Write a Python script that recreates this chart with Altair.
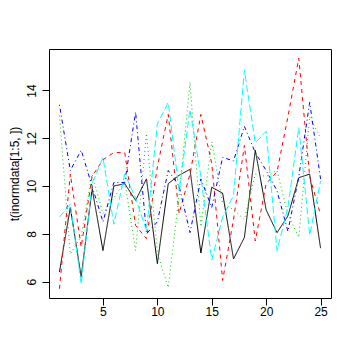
import altair as alt
import pandas as pd

idx = list(range(1, 26))
black = [6.4, 9.1, 6.2, 9.9, 7.3, 10.0, 10.1, 9.4, 10.3, 6.75, 10.1, 10.45, 10.7, 7.2, 9.95, 9.7, 6.95, 7.85, 11.5, 9.0, 8.05, 8.75, 10.35, 10.5, 7.4]
red = [5.7, 10.5, 7.45, 10.4, 11.1, 11.4, 11.4, 8.35, 7.8, 10.8, 13.0, 8.85, 10.5, 13.0, 10.95, 6.05, 8.6, 11.7, 7.7, 10.1, 10.6, 12.9, 15.35, 10.4, 8.8]
green = [12.95, 7.15, 7.9, 10.5, 8.85, 9.5, 10.2, 7.3, 12.2, 7.2, 5.75, 9.6, 14.35, 8.3, 11.85, 9.3, 9.0, 8.6, 10.5, 10.4, 10.65, 8.8, 7.85, 12.9, 12.0]
blue = [13.4, 10.65, 11.5, 10.0, 8.5, 10.15, 10.15, 13.1, 8.0, 8.5, 10.65, 10.0, 8.05, 10.3, 9.1, 11.2, 11.05, 12.5, 11.4, 10.65, 9.8, 8.1, 10.4, 13.5, 10.3]
cyan = [8.7, 9.25, 5.9, 10.1, 11.2, 8.4, 10.5, 9.5, 8.15, 12.6, 13.5, 9.8, 13.2, 10.4, 6.9, 8.7, 9.6, 14.85, 11.8, 12.3, 7.3, 9.1, 12.45, 7.95, 10.2]

series = [black, red, green, blue, cyan]
colors = ["#000000", "#FF0000", "#00CD00", "#0000FF", "#00FFFF"]
dashes = [[1, 0], [4, 4], [1, 3], [1, 3, 4, 3], [7, 3]]
x_ticks = [5, 10, 15, 20, 25]
y_ticks = [6, 8, 10, 12, 14]

allv = [v for s in series for v in s]
lo, hi = min(allv), max(allv)
pad = 0.04 * (hi - lo)
ydom = [lo - pad, hi + pad]
xdom = [1 - 0.04 * 24, 25 + 0.04 * 24]

FONT = "Liberation Sans"
xs = alt.X("x:Q", scale=alt.Scale(domain=xdom, nice=False, zero=False),
           axis=alt.Axis(values=x_ticks, title=None, domain=False, grid=False,
                         tickSize=7, tickColor="black", labelColor="black",
                         labelFont=FONT, labelFontSize=12, labelPadding=1,
                         labelBaseline="top"))
ys = alt.Y("y:Q", scale=alt.Scale(domain=ydom, nice=False, zero=False),
           axis=alt.Axis(values=y_ticks, title="t(inormdata[1:5, ])", domain=False, grid=False,
                         tickSize=7, tickColor="black", labelColor="black",
                         labelFont=FONT, labelFontSize=12, labelPadding=4,
                         labelAngle=270, labelAlign="center", labelBaseline="bottom",
                         titleFont=FONT, titleFontSize=12, titleFontWeight="normal",
                         titleColor="black", titleAngle=270, titleX=-35, titleY=124.5,
                         titleAlign="center", titleBaseline="middle"))

layers = []
for s, c, d in zip(series, colors, dashes):
    df = pd.DataFrame({"x": idx, "y": s})
    layers.append(alt.Chart(df).mark_line(color=c, strokeDash=d, strokeWidth=1,
                                          clip=True).encode(x=xs, y=ys))

chart = alt.layer(*layers).properties(
    width=282, height=249,
    autosize=alt.AutoSizeParams(type="none"),
    padding={"left": 41, "top": 41, "right": 21, "bottom": 54},
    background="white",
).configure_view(stroke="black", strokeWidth=1)

chart.save("out.html", embed_options={"renderer": "svg", "actions": False})
